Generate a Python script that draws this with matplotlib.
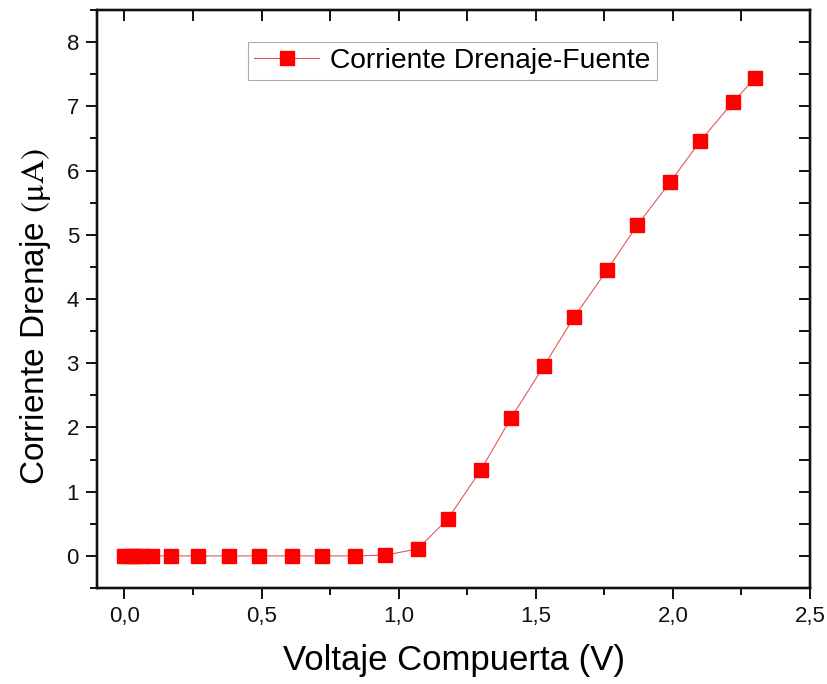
import numpy as np
import matplotlib
matplotlib.use("Agg")
import matplotlib.pyplot as plt
from matplotlib.ticker import MultipleLocator, FuncFormatter, NullFormatter

# data
voltaje = [0.0, 0.02, 0.04, 0.06, 0.10, 0.17, 0.27, 0.38, 0.49, 0.61, 0.72,
           0.84, 0.95, 1.07, 1.18, 1.30, 1.41, 1.53, 1.64, 1.76, 1.87, 1.99,
           2.10, 2.22, 2.30]
corriente = [0.0, 0.0, 0.0, 0.0, 0.0, 0.0, 0.0, 0.0, 0.0, 0.0, 0.0,
             0.0, 0.01, 0.11, 0.58, 1.34, 2.15, 2.96, 3.72, 4.45, 5.15, 5.82,
             6.46, 7.07, 7.44]
serie_label = "Corriente Drenaje-Fuente"

XLIM = (-0.1, 2.5)
YLIM = (-0.5, 8.5)
INK = "#111111"

plt.rcParams["font.family"] = ["Liberation Sans", "DejaVu Sans"]
plt.rcParams["mathtext.fontset"] = "stix"

fig = plt.figure(figsize=(8.27, 6.84), dpi=100, facecolor="white")
ax = fig.add_axes([97 / 827, 1 - 588 / 684, (810 - 97) / 827, (588 - 10) / 684])

ax.plot(voltaje, corriente, color="#e05a5a", linewidth=0.8,
        marker="s", markersize=9.5, markerfacecolor="#ff0000",
        markeredgecolor="#ff0000", label=serie_label, zorder=3)

ax.set_xlim(*XLIM)
ax.set_ylim(*YLIM)
ax.xaxis.set_major_locator(MultipleLocator(0.5))
ax.xaxis.set_minor_locator(MultipleLocator(0.25))
ax.yaxis.set_major_locator(MultipleLocator(1))
ax.yaxis.set_minor_locator(MultipleLocator(0.5))
ax.xaxis.set_major_formatter(FuncFormatter(lambda v, p: f"{v:.1f}".replace(".", ",")))
ax.yaxis.set_major_formatter(FuncFormatter(lambda v, p: f"{v:.0f}"))

for s in ax.spines.values():
    s.set_linewidth(1.6)
    s.set_color(INK)

ax.tick_params(which="both", direction="out", width=1.4, labelsize=16,
               colors=INK, pad=5)
ax.tick_params(which="major", length=8)
ax.tick_params(which="minor", length=5)

# Origin style: inward ticks on the top and right edges
tx = ax.twiny()
tx.set_xlim(*XLIM)
tx.xaxis.set_major_locator(MultipleLocator(0.5))
tx.xaxis.set_minor_locator(MultipleLocator(0.25))
tx.xaxis.set_major_formatter(NullFormatter())
tx.tick_params(which="both", direction="in", width=1.4, length=8, colors=INK)
ty = ax.twinx()
ty.set_ylim(*YLIM)
ty.yaxis.set_major_locator(MultipleLocator(1))
ty.yaxis.set_minor_locator(MultipleLocator(0.5))
ty.yaxis.set_major_formatter(NullFormatter())
ty.tick_params(which="both", direction="in", width=1.4, length=8, colors=INK)
for a in (tx, ty):
    for s in a.spines.values():
        s.set_linewidth(1.6)
        s.set_color(INK)

ax.set_xlabel("Voltaje Compuerta (V)", fontsize=25, labelpad=12)
ax.set_ylabel("Corriente Drenaje $\\mathrm{(μA)}$", fontsize=24)
ax.yaxis.set_label_coords(-0.062, 0.47)

leg = ty.legend(*ax.get_legend_handles_labels(), loc="upper left",
                bbox_to_anchor=(0.212, 0.945), fontsize=20.3,
                frameon=True, fancybox=False, edgecolor="#999999",
                handlelength=2.3, handletextpad=0.4, borderpad=0.22,
                borderaxespad=0)
leg.get_frame().set_linewidth(0.8)

fig.savefig("out.png", dpi=100, facecolor="white")
